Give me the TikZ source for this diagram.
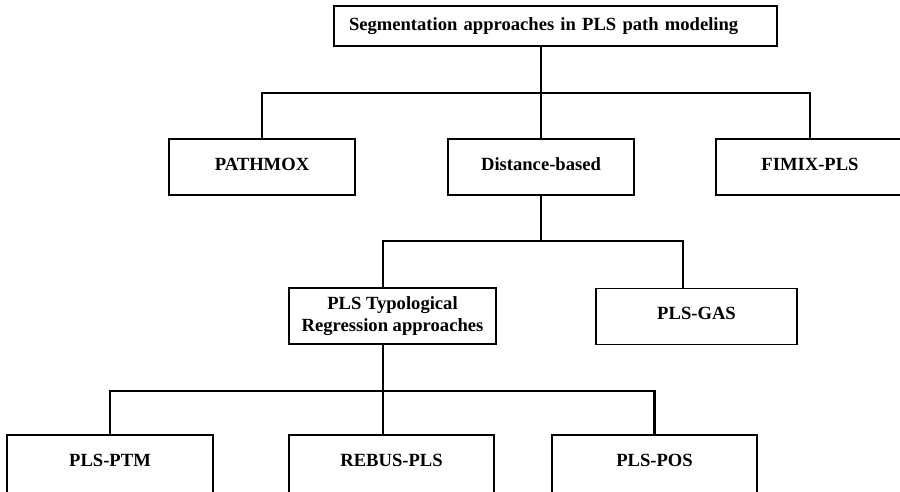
\documentclass[tikz,border=0pt]{standalone}
\usepackage{fontspec}
\setmainfont{Liberation Serif}
\begin{document}
\begin{tikzpicture}[x=1pt,y=-1pt,
  box/.style={draw, line width=1.3pt, minimum height=56pt, inner sep=0pt,
    align=center, font=\bfseries\fontsize{18.6}{22}\selectfont},
  oneline/.style={box, text height=12.3pt, text depth=6pt},
  lowbox/.style={box, minimum height=60pt, text height=12.3pt, text depth=10pt},
  link/.style={line width=2.2pt}]
\useasboundingbox (0,0) rectangle (900,491);

% root
\node[box, minimum height=40pt, text width=413pt, inner xsep=15pt, align=left]
  (root) at (555.5,26) {Segmentation approaches in PLS path modeling};

% first level (the right box runs past the right edge)
\node[oneline, minimum width=186pt] (pathmox) at (262,167) {PATHMOX};
\node[oneline, minimum width=186pt] (dist) at (541,167) {Distance-based};
\node[oneline, minimum width=200pt] (fimix) at (816,167) {\hspace*{-12pt}FIMIX-PLS};

% second level
\node[box, minimum width=207pt] (typ) at (392.5,316) {PLS Typological\\Regression approaches};
\node[oneline, minimum width=201pt] (gas) at (696.5,316.5) {PLS-GAS};

% third level (boxes run past the lower edge)
\node[lowbox, minimum width=206pt] (ptm) at (110,465) {PLS-PTM};
\node[lowbox, minimum width=205pt] (rebus) at (391.5,465) {REBUS-PLS};
\node[lowbox, minimum width=205pt] (pos) at (654.5,465) {PLS-POS};

% junction points
\coordinate (j1) at (541,93);
\coordinate (j1r) at (810,93);
\coordinate (j2l) at (383,241);
\coordinate (j2) at (541,241);
\coordinate (j2r) at (683,241);
\coordinate (j3) at (383,391);

% connectors
\draw[link] (root.south -| j1) -- (dist.north);
\draw[link] (pathmox.north) |- (j1) -- (j1r) -- (j1r |- fimix.north);
\draw[link] (dist.south) -- (j2);
\draw[link] (j2l |- typ.north) -- (j2l) -- (j2r) -- (j2r |- gas.north);
\draw[link] (typ.south -| j3) -- (j3 |- rebus.north);
\draw[link] (ptm.north) |- (j3) -| (pos.north);
\end{tikzpicture}
\end{document}
